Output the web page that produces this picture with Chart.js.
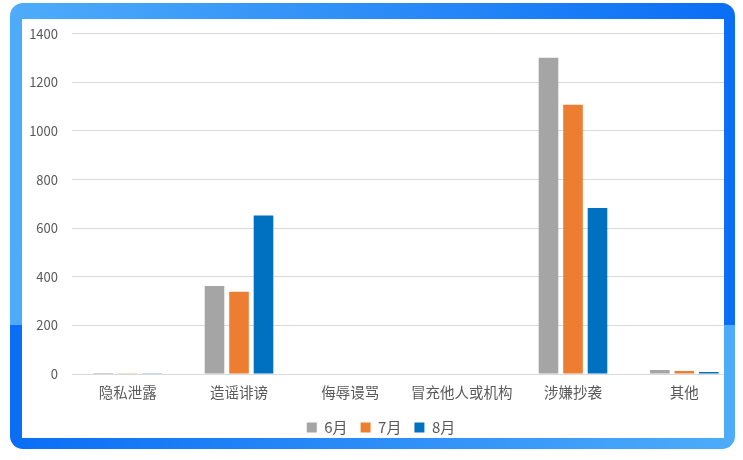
<!DOCTYPE html>
<html>
<head>
<meta charset="utf-8">
<script src="https://cdn.jsdelivr.net/npm/chart.js@4"></script>
<style>
  body { margin: 0; width: 743px; height: 460px; background: #fff; position: relative; overflow: hidden; }
  .frame { position: absolute; left: 10px; top: 3px; width: 725px; height: 446px; border-radius: 13px; overflow: hidden; }
  .frame .top { position: absolute; left: 0; top: 0; width: 100%; height: 322px; background: linear-gradient(to right, #4eacfa, #0a6ef5); }
  .frame .bot { position: absolute; left: 0; top: 322px; width: 100%; height: 124px; background: linear-gradient(to right, #0a6ef5, #4eacfa); }
  .inner { position: absolute; left: 22px; top: 19px; width: 702px; height: 419px; background: #fff; overflow: hidden; }
  .inner canvas { position: absolute; left: 0; top: 0; }
</style>
</head>
<body>
<div class="frame"><div class="top"></div><div class="bot"></div></div>
<div class="inner">
  <div style="position:absolute;left:0;top:-7px;width:730px;height:433px;">
    <canvas id="barChart"></canvas>
  </div>
</div>
<script>
const categories = ['隐私泄露', '造谣诽谤', '侮辱谩骂', '冒充他人或机构', '涉嫌抄袭', '其他'];
const seriesNames = ['6月', '7月', '8月'];
const june = [4, 362, 0, 0, 1301, 16];
const july = [3, 338, 0, 0, 1108, 12];
const august = [3, 652, 0, 0, 683, 8];
const colors = ['#a5a5a5', '#ed7d31', '#0070c0'];

const font = "'Noto Sans CJK SC', 'Microsoft YaHei', sans-serif";
const textColor = '#595959';

new Chart(document.getElementById('barChart'), {
    type: 'bar',
    data: {
        labels: categories,
        datasets: [june, july, august].map((d, i) => ({
            label: seriesNames[i],
            data: d,
            backgroundColor: colors[i],
            categoryPercentage: 0.66,
            barPercentage: 0.8
        }))
    },
    options: {
        responsive: true,
        maintainAspectRatio: false,
        animation: false,
        layout: { padding: { top: 2, right: 12, left: 0, bottom: 0 } },
        plugins: {
            tooltip: { enabled: false },
            legend: {
                position: 'bottom',
                labels: {
                    boxWidth: 10,
                    boxHeight: 10,
                    padding: 13,
                    color: textColor,
                    font: { family: font, size: 15 }
                }
            }
        },
        scales: {
            x: {
                grid: { display: false },
                border: { color: '#d9d9d9' },
                ticks: { color: textColor, font: { family: font, size: 14.5 }, padding: 2, maxRotation: 0 },
                afterFit: (s) => { s.height = 33; }
            },
            y: {
                min: 0,
                max: 1400,
                ticks: {
                    stepSize: 200, color: textColor, font: { family: font, size: 13 }, padding: 14,
                    callback: (v) => String(v)
                },
                grid: { color: '#d9d9d9', drawTicks: false },
                border: { display: false },
                afterFit: (s) => { s.width = 50; }
            }
        }
    }
});
</script>
</body>
</html>
